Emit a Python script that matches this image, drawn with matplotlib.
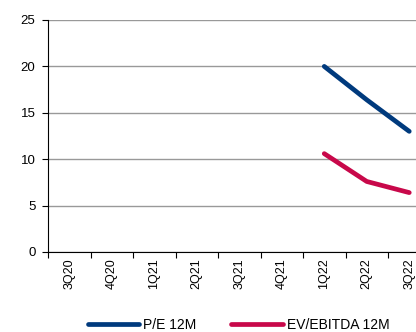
import matplotlib
matplotlib.use("Agg")
import matplotlib.pyplot as plt
import numpy as np
from matplotlib.lines import Line2D

plt.rcParams['font.family'] = ['Liberation Sans', 'DejaVu Sans']

categories = ["3Q20", "4Q20", "1Q21", "2Q21", "3Q21", "4Q21", "1Q22", "2Q22", "3Q22", "4Q22"]
pe_12m = [np.nan, np.nan, np.nan, np.nan, np.nan, np.nan, 20.0, 16.4, 13.0, np.nan]
ev_ebitda_12m = [np.nan, np.nan, np.nan, np.nan, np.nan, np.nan, 10.6, 7.6, 6.4, np.nan]

blue = "#003A7D"
red = "#C8084A"

W, H = 416, 332
fig = plt.figure(figsize=(W / 100, H / 100), dpi=100)
left, bottom, top = 48, 252, 20
cat_w = 42.5
ax = fig.add_axes([left / W, (H - bottom) / H, len(categories) * cat_w / W, (bottom - top) / H])

x = np.arange(len(categories)) + 0.5
ax.plot(x, pe_12m, color=blue, lw=3.4, solid_capstyle='round', label="P/E 12M", clip_on=False)
ax.plot(x, ev_ebitda_12m, color=red, lw=3.4, solid_capstyle='round', label="EV/EBITDA 12M", clip_on=False)

ax.set_xlim(0, len(categories))
ax.set_ylim(0, 25)
ax.set_yticks([0, 5, 10, 15, 20, 25])
ax.yaxis.grid(True, color="#999999", lw=1)
ax.set_axisbelow(True)
ax.set_xticks(np.arange(len(categories) + 1))
ax.set_xticklabels([])
ax.set_xticks(x, minor=True)
ax.set_xticklabels(categories, minor=True, rotation=90, fontsize=9)
ax.tick_params(axis='x', which='minor', length=0, pad=4.5)
ax.tick_params(axis='x', which='major', length=4, color='black', direction='out')
ax.tick_params(axis='y', length=4, color='black', labelsize=9.5, pad=5)
for s in ['top', 'right']:
    ax.spines[s].set_visible(False)
ax.spines['left'].set_color('black')
ax.spines['bottom'].set_color('black')

handles = [Line2D([0], [0], color=blue, lw=3.4, solid_capstyle='round'),
           Line2D([0], [0], color=red, lw=3.4, solid_capstyle='round')]
fig.legend(handles, ["P/E 12M", "EV/EBITDA 12M"], loc='center', bbox_to_anchor=(238.5 / W, (H - 325) / H),
           ncol=2, frameon=False, fontsize=10, handlelength=3.7, handletextpad=0.3, columnspacing=2.5)

fig.savefig("out.png", dpi=100)
